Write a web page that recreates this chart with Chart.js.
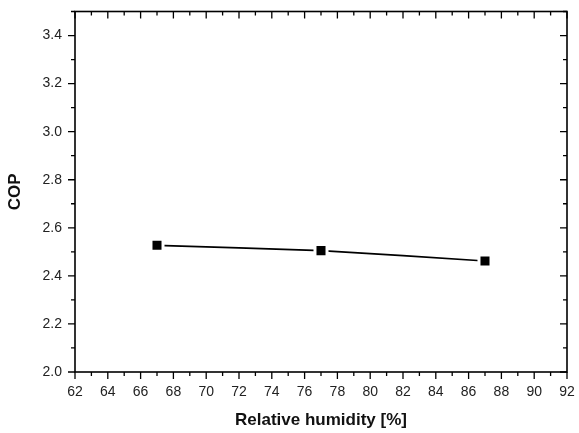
<!DOCTYPE html>
<html>
<head>
<meta charset="utf-8">
<script src="https://cdn.jsdelivr.net/npm/chart.js@4"></script>
<style>
  html, body { margin: 0; padding: 0; background: #fff; }
  #wrap { width: 579px; height: 433px; }
</style>
</head>
<body>
<div id="wrap"><canvas id="copChart"></canvas></div>
<script>
// data
const humidity = [67, 77, 87];
const cop = [2.527, 2.505, 2.462];
const xTicks = [62, 64, 66, 68, 70, 72, 74, 76, 78, 80, 82, 84, 86, 88, 90, 92];
const yTicks = [2.0, 2.2, 2.4, 2.6, 2.8, 3.0, 3.2, 3.4];
const yMax = 3.5;

const font = "'Liberation Sans', Arial, sans-serif";

// midpoints between major ticks (plus one past the last if it still fits)
function minorTicks(ticks, max) {
  const out = [];
  for (let i = 0; i < ticks.length - 1; i++) out.push((ticks[i] + ticks[i + 1]) / 2);
  const step = ticks[1] - ticks[0];
  const extra = ticks[ticks.length - 1] + step / 2;
  if (extra <= max + 1e-9) out.push(extra);
  return out;
}

// Origin-style frame: box with ticks out on left/bottom, in on top/right
const framePlugin = {
  id: "frame",
  afterDatasetsDraw(chart) {
    const { ctx, chartArea: a, scales } = chart;
    const x = scales.x, y = scales.y;
    ctx.save();
    ctx.strokeStyle = "#000";
    ctx.lineWidth = 1.6;
    ctx.strokeRect(a.left, a.top, a.right - a.left, a.bottom - a.top);
    ctx.lineWidth = 1.3;
    ctx.beginPath();
    const tickX = (v, len) => {
      const px = x.getPixelForValue(v);
      ctx.moveTo(px, a.bottom); ctx.lineTo(px, a.bottom + len);
      ctx.moveTo(px, a.top); ctx.lineTo(px, a.top + len);
    };
    const tickY = (v, len) => {
      const py = y.getPixelForValue(v);
      ctx.moveTo(a.left, py); ctx.lineTo(a.left - len, py);
      ctx.moveTo(a.right, py); ctx.lineTo(a.right - len, py);
    };
    xTicks.forEach((v) => tickX(v, 7));
    minorTicks(xTicks, 92).forEach((v) => tickX(v, 4));
    yTicks.forEach((v) => tickY(v, 7));
    minorTicks(yTicks, yMax).forEach((v) => tickY(v, 4));
    ctx.stroke();
    ctx.restore();
  },
};

const ctx = document.getElementById("copChart").getContext("2d");
new Chart(ctx, {
  type: "line",
  data: {
    datasets: [
      {
        label: "COP",
        data: humidity.map((h, i) => ({ x: h, y: cop[i] })),
        borderColor: "#000",
        borderWidth: 1.6,
        backgroundColor: "#000",
        pointStyle: "rect",
        pointRadius: 8.5,
        pointBorderWidth: 3,
        pointBorderColor: "#fff",
        pointBackgroundColor: "#000",
        tension: 0.15,
      },
    ],
  },
  options: {
    responsive: true,
    maintainAspectRatio: false,
    animation: false,
    layout: { padding: { top: 7, right: 12, bottom: 0, left: 0 } },
    plugins: { legend: { display: false }, tooltip: { enabled: false } },
    scales: {
      x: {
        type: "linear",
        min: 62,
        max: 92,
        border: { display: false },
        grid: { display: false, drawTicks: false },
        afterBuildTicks: (s) => { s.ticks = xTicks.map((v) => ({ value: v })); },
        afterFit: (s) => { s.height = 61; s.paddingLeft = 0; s.paddingRight = 0; },
        ticks: {
          padding: 12,
          maxRotation: 0,
          autoSkip: false,
          color: "#222",
          font: { family: font, size: 14 },
        },
        title: {
          display: true,
          text: "Relative humidity [%]",
          color: "#111",
          font: { family: font, size: 17, weight: "bold" },
          padding: { top: 0, bottom: 2 },
        },
      },
      y: {
        type: "linear",
        min: 2.0,
        max: yMax,
        border: { display: false },
        grid: { display: false, drawTicks: false },
        afterBuildTicks: (s) => { s.ticks = yTicks.map((v) => ({ value: v })); },
        afterFit: (s) => { s.width = 75; s.paddingTop = 0; s.paddingBottom = 0; },
        ticks: {
          padding: 13,
          autoSkip: false,
          color: "#222",
          font: { family: font, size: 14 },
          callback: (v) => Number(v).toFixed(1),
        },
        title: {
          display: true,
          text: "COP",
          color: "#111",
          font: { family: font, size: 17, weight: "bold" },
          padding: { top: 5, bottom: 0 },
        },
      },
    },
  },
  plugins: [framePlugin],
});
</script>
</body>
</html>
